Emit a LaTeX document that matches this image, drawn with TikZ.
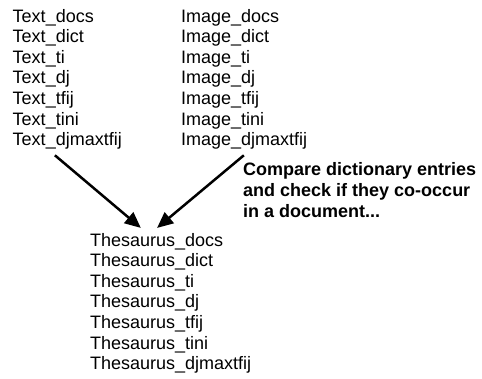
\documentclass[tikz,border=0pt]{standalone}
\usepackage{fontspec}
\setmainfont{Liberation Sans}
\usetikzlibrary{arrows.meta, positioning, calc}
\definecolor{ListBlack}{RGB}{0, 0, 0}

\begin{document}
\begin{tikzpicture}[
    % Define styles for the elements
    field list/.style={
        align=left,
        inner sep=0pt,
        anchor=base west,       % base = baseline of the last line
        font=\fontsize{18}{20.6}\selectfont,
        text=ListBlack
    },
    note text/.style={
        align=left,
        inner sep=0pt,
        anchor=base west,
        font=\fontsize{18}{21}\selectfont\bfseries,
        text=ListBlack
    },
    merge arrow/.style={
        -{Triangle[length=16pt, width=14pt]},
        line width=2.5pt,
        color=ListBlack
    }
]
    % Frame of the whole picture
    \useasboundingbox (0,0) rectangle (16.94,-13.32);

    % --- Text fields ---
    \node[field list] (textlist) at (0.44, -5.12) {
        Text\_docs\\
        Text\_dict\\
        Text\_ti\\
        Text\_dj\\
        Text\_tfij\\
        Text\_tini\\
        Text\_djmaxtfij
    };

    % --- Image fields ---
    \node[field list] (imagelist) at (6.36, -5.12) {
        Image\_docs\\
        Image\_dict\\
        Image\_ti\\
        Image\_dj\\
        Image\_tfij\\
        Image\_tini\\
        Image\_djmaxtfij
    };

    % --- Thesaurus fields ---
    \node[field list] (thesaurus) at (3.16, -12.99) {
        Thesaurus\_docs\\
        Thesaurus\_dict\\
        Thesaurus\_ti\\
        Thesaurus\_dj\\
        Thesaurus\_tfij\\
        Thesaurus\_tini\\
        Thesaurus\_djmaxtfij
    };

    % --- Note beside the arrows ---
    \node[note text] (note) at (8.54, -7.63) {
        Compare dictionary entries\\
        and check if they co-occur\\
        in a document...
    };

    % --- Arrow ends ---
    \coordinate (text out) at ($(textlist.south west)+(1.49,-0.2)$);
    \coordinate (image out) at ($(imagelist.south west)+(2.21,-0.2)$);
    \coordinate (text in) at ($(thesaurus.north west)+(1.79,0.17)$);
    \coordinate (image in) at ($(thesaurus.north west)+(2.36,0.17)$);

    % --- Connections ---
    \draw[merge arrow] (text out) -- (text in);
    \draw[merge arrow] (image out) -- (image in);

\end{tikzpicture}
\end{document}
